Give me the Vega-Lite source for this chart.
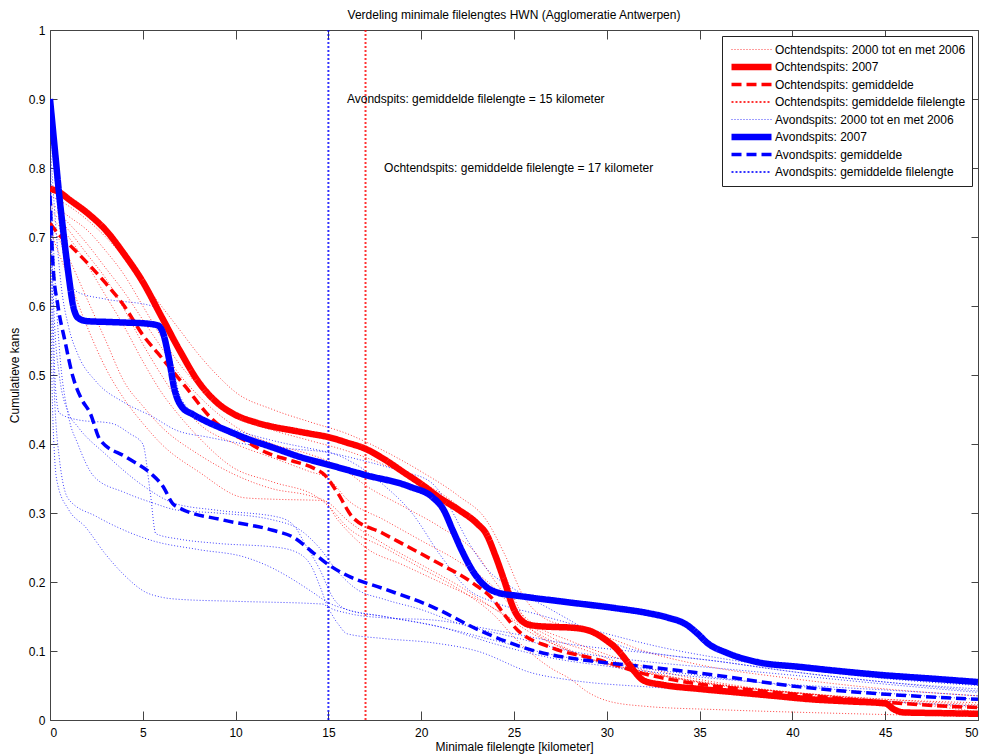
{
  "$schema": "https://vega.github.io/schema/vega-lite/v6.json",
  "width": 928,
  "height": 690,
  "autosize": "none",
  "padding": {"left": 50, "top": 30, "right": 6, "bottom": 35},
  "background": "white",
  "title": {"text": "Verdeling minimale filelengtes HWN (Agglomeratie Antwerpen)", "font": "Liberation Sans", "fontSize": 12, "fontWeight": "normal", "color": "black", "offset": 2, "anchor": "middle"},
  "config": {
    "view": {"stroke": null},
    "axis": {"labelFont": "Liberation Sans", "labelFontSize": 12, "labelColor": "black", "titleFont": "Liberation Sans", "titleFontSize": 12, "titleFontWeight": "normal", "titleColor": "black", "domainColor": "#444", "tickColor": "#444", "grid": false},
    "legend": {"orient": "none", "legendX": 672, "legendY": 6, "direction": "vertical", "strokeColor": "#222", "fillColor": "white", "padding": 6, "labelFont": "Liberation Sans", "labelFontSize": 12, "labelColor": "black", "symbolType": "stroke", "symbolSize": 1600, "labelOffset": 0, "clipHeight": 15, "rowPadding": 2.5, "labelLimit": 300}
  },
  "datasets": {
    "series": [
      {"s": "R0", "g": "Ochtendspits: 2000 tot en met 2006"},
      {"s": "R1", "g": "Ochtendspits: 2000 tot en met 2006"},
      {"s": "R2", "g": "Ochtendspits: 2000 tot en met 2006"},
      {"s": "R3", "g": "Ochtendspits: 2000 tot en met 2006"},
      {"s": "R4", "g": "Ochtendspits: 2000 tot en met 2006"},
      {"s": "R5", "g": "Ochtendspits: 2000 tot en met 2006"},
      {"s": "R6", "g": "Ochtendspits: 2000 tot en met 2006"},
      {"s": "R7", "g": "Ochtendspits: 2007"},
      {"s": "RG", "g": "Ochtendspits: gemiddelde"},
      {"s": "RV", "g": "Ochtendspits: gemiddelde filelengte"},
      {"s": "B0", "g": "Avondspits: 2000 tot en met 2006"},
      {"s": "B1", "g": "Avondspits: 2000 tot en met 2006"},
      {"s": "B2", "g": "Avondspits: 2000 tot en met 2006"},
      {"s": "B3", "g": "Avondspits: 2000 tot en met 2006"},
      {"s": "B4", "g": "Avondspits: 2000 tot en met 2006"},
      {"s": "B5", "g": "Avondspits: 2000 tot en met 2006"},
      {"s": "B6", "g": "Avondspits: 2000 tot en met 2006"},
      {"s": "B7", "g": "Avondspits: 2007"},
      {"s": "BG", "g": "Avondspits: gemiddelde"},
      {"s": "BV", "g": "Avondspits: gemiddelde filelengte"}
    ],
    "notes": [
      {"t": "Avondspits: gemiddelde filelengte = 15 kilometer", "x": 16, "y": 0.9},
      {"t": "Ochtendspits: gemiddelde filelengte = 17 kilometer", "x": 18, "y": 0.8}
    ],
    "lines": [
      {"s":"R0","x":0,"y":0.75},{"s":"R0","x":1,"y":0.73},{"s":"R0","x":2,"y":0.71},{"s":"R0","x":3,"y":0.68},{"s":"R0","x":4,"y":0.645},{"s":"R0","x":5,"y":0.6},{"s":"R0","x":6,"y":0.555},{"s":"R0","x":7,"y":0.515},{"s":"R0","x":8,"y":0.485},{"s":"R0","x":9,"y":0.46},{"s":"R0","x":10,"y":0.44},{"s":"R0","x":12,"y":0.42},{"s":"R0","x":14,"y":0.405},{"s":"R0","x":16,"y":0.39},{"s":"R0","x":18,"y":0.37},{"s":"R0","x":20,"y":0.345},{"s":"R0","x":22,"y":0.31},{"s":"R0","x":23.5,"y":0.27},{"s":"R0","x":24.5,"y":0.21},{"s":"R0","x":25.5,"y":0.15},{"s":"R0","x":27,"y":0.12},{"s":"R0","x":29,"y":0.1},{"s":"R0","x":31,"y":0.08},{"s":"R0","x":34,"y":0.06},{"s":"R0","x":38,"y":0.045},{"s":"R0","x":42,"y":0.035},{"s":"R0","x":46,"y":0.025},{"s":"R0","x":50,"y":0.018},
      {"s":"R1","x":0,"y":0.74},{"s":"R1","x":1,"y":0.71},{"s":"R1","x":2,"y":0.675},{"s":"R1","x":3,"y":0.64},{"s":"R1","x":4,"y":0.595},{"s":"R1","x":5,"y":0.545},{"s":"R1","x":6,"y":0.5},{"s":"R1","x":7,"y":0.46},{"s":"R1","x":8,"y":0.43},{"s":"R1","x":10,"y":0.4},{"s":"R1","x":12,"y":0.38},{"s":"R1","x":14,"y":0.36},{"s":"R1","x":15,"y":0.35},{"s":"R1","x":16,"y":0.32},{"s":"R1","x":18,"y":0.29},{"s":"R1","x":20,"y":0.26},{"s":"R1","x":22,"y":0.23},{"s":"R1","x":24,"y":0.19},{"s":"R1","x":25,"y":0.16},{"s":"R1","x":26,"y":0.13},{"s":"R1","x":28,"y":0.1},{"s":"R1","x":31,"y":0.075},{"s":"R1","x":35,"y":0.055},{"s":"R1","x":40,"y":0.04},{"s":"R1","x":45,"y":0.03},{"s":"R1","x":50,"y":0.022},
      {"s":"R2","x":0,"y":0.72},{"s":"R2","x":1,"y":0.67},{"s":"R2","x":2,"y":0.61},{"s":"R2","x":3,"y":0.55},{"s":"R2","x":4,"y":0.49},{"s":"R2","x":5,"y":0.455},{"s":"R2","x":6,"y":0.425},{"s":"R2","x":8,"y":0.385},{"s":"R2","x":10,"y":0.355},{"s":"R2","x":12,"y":0.335},{"s":"R2","x":14,"y":0.325},{"s":"R2","x":15,"y":0.315},{"s":"R2","x":16,"y":0.29},{"s":"R2","x":18,"y":0.255},{"s":"R2","x":20,"y":0.225},{"s":"R2","x":22,"y":0.195},{"s":"R2","x":24,"y":0.16},{"s":"R2","x":26,"y":0.125},{"s":"R2","x":28,"y":0.1},{"s":"R2","x":30,"y":0.08},{"s":"R2","x":34,"y":0.06},{"s":"R2","x":38,"y":0.045},{"s":"R2","x":44,"y":0.03},{"s":"R2","x":50,"y":0.02},
      {"s":"R3","x":0,"y":0.71},{"s":"R3","x":1,"y":0.64},{"s":"R3","x":2,"y":0.57},{"s":"R3","x":3,"y":0.51},{"s":"R3","x":4,"y":0.465},{"s":"R3","x":5,"y":0.43},{"s":"R3","x":6,"y":0.4},{"s":"R3","x":8,"y":0.36},{"s":"R3","x":10.5,"y":0.322},{"s":"R3","x":12,"y":0.32},{"s":"R3","x":14.7,"y":0.318},{"s":"R3","x":15.5,"y":0.29},{"s":"R3","x":17,"y":0.25},{"s":"R3","x":19,"y":0.225},{"s":"R3","x":21,"y":0.2},{"s":"R3","x":23,"y":0.175},{"s":"R3","x":25,"y":0.145},{"s":"R3","x":27,"y":0.115},{"s":"R3","x":29,"y":0.09},{"s":"R3","x":32,"y":0.07},{"s":"R3","x":36,"y":0.05},{"s":"R3","x":40,"y":0.04},{"s":"R3","x":45,"y":0.03},{"s":"R3","x":50,"y":0.025},
      {"s":"R4","x":0,"y":0.76},{"s":"R4","x":1,"y":0.745},{"s":"R4","x":2,"y":0.725},{"s":"R4","x":3,"y":0.7},{"s":"R4","x":4,"y":0.67},{"s":"R4","x":5,"y":0.635},{"s":"R4","x":6,"y":0.6},{"s":"R4","x":7,"y":0.565},{"s":"R4","x":8,"y":0.53},{"s":"R4","x":9,"y":0.5},{"s":"R4","x":10,"y":0.475},{"s":"R4","x":12,"y":0.45},{"s":"R4","x":14,"y":0.432},{"s":"R4","x":16,"y":0.415},{"s":"R4","x":18,"y":0.39},{"s":"R4","x":20,"y":0.36},{"s":"R4","x":22,"y":0.325},{"s":"R4","x":23.5,"y":0.29},{"s":"R4","x":24.5,"y":0.24},{"s":"R4","x":25.5,"y":0.18},{"s":"R4","x":26.5,"y":0.15},{"s":"R4","x":28,"y":0.135},{"s":"R4","x":30,"y":0.12},{"s":"R4","x":32,"y":0.1},{"s":"R4","x":35,"y":0.08},{"s":"R4","x":40,"y":0.06},{"s":"R4","x":45,"y":0.045},{"s":"R4","x":50,"y":0.035},
      {"s":"R5","x":0,"y":0.73},{"s":"R5","x":1,"y":0.7},{"s":"R5","x":2,"y":0.66},{"s":"R5","x":3,"y":0.615},{"s":"R5","x":4,"y":0.57},{"s":"R5","x":5,"y":0.52},{"s":"R5","x":6,"y":0.475},{"s":"R5","x":7,"y":0.44},{"s":"R5","x":8,"y":0.41},{"s":"R5","x":9.8,"y":0.367},{"s":"R5","x":12,"y":0.345},{"s":"R5","x":14.4,"y":0.323},{"s":"R5","x":15,"y":0.31},{"s":"R5","x":16,"y":0.28},{"s":"R5","x":18,"y":0.25},{"s":"R5","x":20,"y":0.22},{"s":"R5","x":22,"y":0.19},{"s":"R5","x":24,"y":0.15},{"s":"R5","x":25,"y":0.12},{"s":"R5","x":26,"y":0.095},{"s":"R5","x":27,"y":0.075},{"s":"R5","x":28,"y":0.06},{"s":"R5","x":29,"y":0.04},{"s":"R5","x":30,"y":0.028},{"s":"R5","x":32,"y":0.02},{"s":"R5","x":36,"y":0.015},{"s":"R5","x":42,"y":0.01},{"s":"R5","x":50,"y":0.005},
      {"s":"R6","x":0,"y":0.745},{"s":"R6","x":1,"y":0.72},{"s":"R6","x":2,"y":0.69},{"s":"R6","x":3,"y":0.655},{"s":"R6","x":4,"y":0.62},{"s":"R6","x":5,"y":0.58},{"s":"R6","x":6,"y":0.54},{"s":"R6","x":7,"y":0.5},{"s":"R6","x":8,"y":0.47},{"s":"R6","x":9,"y":0.445},{"s":"R6","x":10,"y":0.425},{"s":"R6","x":12,"y":0.4},{"s":"R6","x":14,"y":0.385},{"s":"R6","x":15,"y":0.375},{"s":"R6","x":16,"y":0.36},{"s":"R6","x":17,"y":0.34},{"s":"R6","x":19,"y":0.31},{"s":"R6","x":21,"y":0.28},{"s":"R6","x":23,"y":0.24},{"s":"R6","x":24,"y":0.2},{"s":"R6","x":25,"y":0.165},{"s":"R6","x":26,"y":0.14},{"s":"R6","x":28,"y":0.115},{"s":"R6","x":30,"y":0.095},{"s":"R6","x":33,"y":0.07},{"s":"R6","x":37,"y":0.05},{"s":"R6","x":42,"y":0.035},{"s":"R6","x":46,"y":0.025},{"s":"R6","x":50,"y":0.012},
      {"s":"RV","x":17,"y":0},{"s":"RV","x":17,"y":1},
      {"s":"B0","x":0,"y":0.86},{"s":"B0","x":0.25,"y":0.79},{"s":"B0","x":0.5,"y":0.72},{"s":"B0","x":0.75,"y":0.67},{"s":"B0","x":1,"y":0.64},{"s":"B0","x":1.5,"y":0.62},{"s":"B0","x":3,"y":0.61},{"s":"B0","x":5.5,"y":0.6},{"s":"B0","x":6,"y":0.58},{"s":"B0","x":6.5,"y":0.53},{"s":"B0","x":7,"y":0.47},{"s":"B0","x":8,"y":0.44},{"s":"B0","x":10,"y":0.42},{"s":"B0","x":12,"y":0.405},{"s":"B0","x":15,"y":0.388},{"s":"B0","x":17,"y":0.375},{"s":"B0","x":19,"y":0.36},{"s":"B0","x":20.5,"y":0.345},{"s":"B0","x":21.5,"y":0.31},{"s":"B0","x":22.5,"y":0.26},{"s":"B0","x":23.5,"y":0.22},{"s":"B0","x":25,"y":0.19},{"s":"B0","x":27,"y":0.16},{"s":"B0","x":29,"y":0.13},{"s":"B0","x":31,"y":0.105},{"s":"B0","x":33,"y":0.095},{"s":"B0","x":36,"y":0.085},{"s":"B0","x":40,"y":0.07},{"s":"B0","x":45,"y":0.055},{"s":"B0","x":50,"y":0.045},
      {"s":"B1","x":0,"y":0.8},{"s":"B1","x":0.15,"y":0.6},{"s":"B1","x":0.3,"y":0.48},{"s":"B1","x":0.5,"y":0.445},{"s":"B1","x":1.5,"y":0.435},{"s":"B1","x":3.3,"y":0.43},{"s":"B1","x":4.3,"y":0.415},{"s":"B1","x":5,"y":0.4},{"s":"B1","x":5.4,"y":0.33},{"s":"B1","x":5.7,"y":0.27},{"s":"B1","x":7,"y":0.262},{"s":"B1","x":9,"y":0.256},{"s":"B1","x":12.3,"y":0.25},{"s":"B1","x":13.5,"y":0.24},{"s":"B1","x":14.1,"y":0.222},{"s":"B1","x":14.6,"y":0.19},{"s":"B1","x":15,"y":0.164},{"s":"B1","x":16,"y":0.155},{"s":"B1","x":18,"y":0.148},{"s":"B1","x":20.6,"y":0.145},{"s":"B1","x":24,"y":0.13},{"s":"B1","x":28,"y":0.11},{"s":"B1","x":32.2,"y":0.097},{"s":"B1","x":36,"y":0.085},{"s":"B1","x":40,"y":0.07},{"s":"B1","x":45,"y":0.055},{"s":"B1","x":50,"y":0.042},
      {"s":"B2","x":0,"y":0.78},{"s":"B2","x":0.2,"y":0.6},{"s":"B2","x":0.5,"y":0.5},{"s":"B2","x":1,"y":0.445},{"s":"B2","x":1.5,"y":0.425},{"s":"B2","x":3,"y":0.385},{"s":"B2","x":5.1,"y":0.338},{"s":"B2","x":6.7,"y":0.314},{"s":"B2","x":9,"y":0.304},{"s":"B2","x":12.3,"y":0.294},{"s":"B2","x":13.2,"y":0.28},{"s":"B2","x":13.7,"y":0.257},{"s":"B2","x":14.5,"y":0.22},{"s":"B2","x":15.3,"y":0.175},{"s":"B2","x":16,"y":0.16},{"s":"B2","x":18,"y":0.15},{"s":"B2","x":21,"y":0.135},{"s":"B2","x":24,"y":0.115},{"s":"B2","x":27,"y":0.095},{"s":"B2","x":30,"y":0.082},{"s":"B2","x":34,"y":0.068},{"s":"B2","x":38,"y":0.055},{"s":"B2","x":42,"y":0.045},{"s":"B2","x":46,"y":0.037},{"s":"B2","x":50,"y":0.03},
      {"s":"B3","x":0,"y":0.7},{"s":"B3","x":0.1,"y":0.5},{"s":"B3","x":0.25,"y":0.38},{"s":"B3","x":0.4,"y":0.343},{"s":"B3","x":1,"y":0.305},{"s":"B3","x":1.9,"y":0.28},{"s":"B3","x":3,"y":0.24},{"s":"B3","x":4,"y":0.21},{"s":"B3","x":5.1,"y":0.186},{"s":"B3","x":6,"y":0.178},{"s":"B3","x":6.9,"y":0.175},{"s":"B3","x":10,"y":0.172},{"s":"B3","x":14.7,"y":0.168},{"s":"B3","x":15.5,"y":0.14},{"s":"B3","x":16,"y":0.125},{"s":"B3","x":18,"y":0.118},{"s":"B3","x":20.6,"y":0.112},{"s":"B3","x":23,"y":0.1},{"s":"B3","x":26,"y":0.068},{"s":"B3","x":28,"y":0.058},{"s":"B3","x":32.2,"y":0.048},{"s":"B3","x":36,"y":0.042},{"s":"B3","x":40,"y":0.035},{"s":"B3","x":45,"y":0.027},{"s":"B3","x":50,"y":0.02},
      {"s":"B4","x":0,"y":0.74},{"s":"B4","x":0.2,"y":0.5},{"s":"B4","x":0.5,"y":0.38},{"s":"B4","x":1,"y":0.32},{"s":"B4","x":2.5,"y":0.295},{"s":"B4","x":4,"y":0.275},{"s":"B4","x":5.5,"y":0.26},{"s":"B4","x":8,"y":0.247},{"s":"B4","x":10.5,"y":0.236},{"s":"B4","x":12,"y":0.22},{"s":"B4","x":13,"y":0.205},{"s":"B4","x":14.1,"y":0.186},{"s":"B4","x":15,"y":0.17},{"s":"B4","x":16,"y":0.16},{"s":"B4","x":18,"y":0.15},{"s":"B4","x":21,"y":0.135},{"s":"B4","x":24,"y":0.11},{"s":"B4","x":27,"y":0.09},{"s":"B4","x":30,"y":0.078},{"s":"B4","x":34,"y":0.065},{"s":"B4","x":38,"y":0.055},{"s":"B4","x":42,"y":0.048},{"s":"B4","x":46,"y":0.042},{"s":"B4","x":50,"y":0.035},
      {"s":"B5","x":0,"y":0.82},{"s":"B5","x":0.25,"y":0.65},{"s":"B5","x":0.5,"y":0.54},{"s":"B5","x":1,"y":0.44},{"s":"B5","x":1.5,"y":0.4},{"s":"B5","x":2.4,"y":0.352},{"s":"B5","x":4,"y":0.33},{"s":"B5","x":5.5,"y":0.315},{"s":"B5","x":6.9,"y":0.304},{"s":"B5","x":9,"y":0.3},{"s":"B5","x":12,"y":0.29},{"s":"B5","x":13.5,"y":0.275},{"s":"B5","x":14.5,"y":0.25},{"s":"B5","x":15.5,"y":0.215},{"s":"B5","x":16.5,"y":0.19},{"s":"B5","x":18,"y":0.175},{"s":"B5","x":20,"y":0.16},{"s":"B5","x":22,"y":0.14},{"s":"B5","x":25,"y":0.12},{"s":"B5","x":28,"y":0.1},{"s":"B5","x":32,"y":0.085},{"s":"B5","x":36,"y":0.075},{"s":"B5","x":40,"y":0.065},{"s":"B5","x":45,"y":0.052},{"s":"B5","x":50,"y":0.04},
      {"s":"B6","x":0,"y":0.84},{"s":"B6","x":0.3,"y":0.72},{"s":"B6","x":0.6,"y":0.63},{"s":"B6","x":1,"y":0.57},{"s":"B6","x":1.5,"y":0.53},{"s":"B6","x":2.5,"y":0.49},{"s":"B6","x":4,"y":0.46},{"s":"B6","x":5.5,"y":0.44},{"s":"B6","x":6.8,"y":0.42},{"s":"B6","x":8.5,"y":0.41},{"s":"B6","x":10.5,"y":0.4},{"s":"B6","x":13,"y":0.393},{"s":"B6","x":15.1,"y":0.387},{"s":"B6","x":16.5,"y":0.37},{"s":"B6","x":18,"y":0.34},{"s":"B6","x":19.5,"y":0.3},{"s":"B6","x":21,"y":0.24},{"s":"B6","x":22.5,"y":0.19},{"s":"B6","x":24,"y":0.17},{"s":"B6","x":26,"y":0.155},{"s":"B6","x":28,"y":0.14},{"s":"B6","x":30,"y":0.125},{"s":"B6","x":33,"y":0.105},{"s":"B6","x":36,"y":0.09},{"s":"B6","x":40,"y":0.075},{"s":"B6","x":45,"y":0.06},{"s":"B6","x":50,"y":0.05},
      {"s":"BV","x":15,"y":0},{"s":"BV","x":15,"y":1},
      {"s":"RG","x":0,"y":0.72},{"s":"RG","x":0.5,"y":0.703},{"s":"RG","x":1,"y":0.69},{"s":"RG","x":2.2,"y":0.657},{"s":"RG","x":3,"y":0.633},{"s":"RG","x":4,"y":0.6},{"s":"RG","x":5,"y":0.558},{"s":"RG","x":5.8,"y":0.532},{"s":"RG","x":7.3,"y":0.483},{"s":"RG","x":8.7,"y":0.437},{"s":"RG","x":9.3,"y":0.423},{"s":"RG","x":10.5,"y":0.405},{"s":"RG","x":11.7,"y":0.387},{"s":"RG","x":13,"y":0.376},{"s":"RG","x":14.2,"y":0.365},{"s":"RG","x":14.8,"y":0.355},{"s":"RG","x":15.5,"y":0.329},{"s":"RG","x":16.3,"y":0.294},{"s":"RG","x":17.9,"y":0.271},{"s":"RG","x":20.6,"y":0.232},{"s":"RG","x":22.8,"y":0.198},{"s":"RG","x":23.9,"y":0.174},{"s":"RG","x":24.5,"y":0.152},{"s":"RG","x":25.2,"y":0.13},{"s":"RG","x":26.9,"y":0.106},{"s":"RG","x":29.6,"y":0.087},{"s":"RG","x":32.3,"y":0.065},{"s":"RG","x":35,"y":0.052},{"s":"RG","x":38,"y":0.043},{"s":"RG","x":41,"y":0.035},{"s":"RG","x":44,"y":0.028},{"s":"RG","x":47,"y":0.022},{"s":"RG","x":50,"y":0.018},
      {"s":"BG","x":0,"y":0.76},{"s":"BG","x":0.16,"y":0.66},{"s":"BG","x":0.43,"y":0.6},{"s":"BG","x":0.8,"y":0.55},{"s":"BG","x":1.24,"y":0.497},{"s":"BG","x":1.7,"y":0.465},{"s":"BG","x":2.16,"y":0.445},{"s":"BG","x":2.7,"y":0.406},{"s":"BG","x":4.1,"y":0.381},{"s":"BG","x":5.4,"y":0.358},{"s":"BG","x":6.1,"y":0.338},{"s":"BG","x":6.6,"y":0.314},{"s":"BG","x":7,"y":0.307},{"s":"BG","x":9.3,"y":0.29},{"s":"BG","x":12,"y":0.275},{"s":"BG","x":13.1,"y":0.265},{"s":"BG","x":14.2,"y":0.242},{"s":"BG","x":14.9,"y":0.227},{"s":"BG","x":16.2,"y":0.207},{"s":"BG","x":17.9,"y":0.191},{"s":"BG","x":20.6,"y":0.164},{"s":"BG","x":23.3,"y":0.128},{"s":"BG","x":26,"y":0.101},{"s":"BG","x":29.6,"y":0.084},{"s":"BG","x":32.2,"y":0.077},{"s":"BG","x":35,"y":0.068},{"s":"BG","x":40.4,"y":0.048},{"s":"BG","x":45.8,"y":0.036},{"s":"BG","x":50,"y":0.03},
      {"s":"R7","x":0,"y":0.77},{"s":"R7","x":0.5,"y":0.765},{"s":"R7","x":1,"y":0.755},{"s":"R7","x":2,"y":0.735},{"s":"R7","x":3,"y":0.71},{"s":"R7","x":4,"y":0.675},{"s":"R7","x":5,"y":0.635},{"s":"R7","x":6,"y":0.585},{"s":"R7","x":7,"y":0.535},{"s":"R7","x":8,"y":0.49},{"s":"R7","x":9,"y":0.46},{"s":"R7","x":10,"y":0.442},{"s":"R7","x":11,"y":0.432},{"s":"R7","x":12,"y":0.425},{"s":"R7","x":13,"y":0.42},{"s":"R7","x":14,"y":0.415},{"s":"R7","x":15,"y":0.41},{"s":"R7","x":16,"y":0.402},{"s":"R7","x":17,"y":0.393},{"s":"R7","x":18,"y":0.378},{"s":"R7","x":19,"y":0.36},{"s":"R7","x":20,"y":0.342},{"s":"R7","x":21,"y":0.322},{"s":"R7","x":22,"y":0.305},{"s":"R7","x":23,"y":0.285},{"s":"R7","x":23.5,"y":0.27},{"s":"R7","x":24,"y":0.238},{"s":"R7","x":24.5,"y":0.2},{"s":"R7","x":25,"y":0.16},{"s":"R7","x":25.5,"y":0.142},{"s":"R7","x":26,"y":0.137},{"s":"R7","x":27,"y":0.135},{"s":"R7","x":28,"y":0.134},{"s":"R7","x":29,"y":0.13},{"s":"R7","x":30,"y":0.115},{"s":"R7","x":30.5,"y":0.104},{"s":"R7","x":31,"y":0.088},{"s":"R7","x":31.5,"y":0.07},{"s":"R7","x":32,"y":0.057},{"s":"R7","x":33,"y":0.051},{"s":"R7","x":35,"y":0.045},{"s":"R7","x":37,"y":0.04},{"s":"R7","x":39,"y":0.035},{"s":"R7","x":41,"y":0.03},{"s":"R7","x":43,"y":0.027},{"s":"R7","x":45,"y":0.024},{"s":"R7","x":45.5,"y":0.015},{"s":"R7","x":46,"y":0.011},{"s":"R7","x":48,"y":0.01},{"s":"R7","x":50,"y":0.009},
      {"s":"B7","x":0,"y":0.9},{"s":"B7","x":0.25,"y":0.83},{"s":"B7","x":0.5,"y":0.76},{"s":"B7","x":0.75,"y":0.7},{"s":"B7","x":1,"y":0.645},{"s":"B7","x":1.25,"y":0.6},{"s":"B7","x":1.5,"y":0.583},{"s":"B7","x":2,"y":0.578},{"s":"B7","x":3,"y":0.577},{"s":"B7","x":4,"y":0.576},{"s":"B7","x":5,"y":0.575},{"s":"B7","x":5.8,"y":0.572},{"s":"B7","x":6.1,"y":0.56},{"s":"B7","x":6.4,"y":0.525},{"s":"B7","x":6.7,"y":0.48},{"s":"B7","x":7.1,"y":0.454},{"s":"B7","x":7.7,"y":0.443},{"s":"B7","x":8.4,"y":0.433},{"s":"B7","x":9.5,"y":0.42},{"s":"B7","x":10.5,"y":0.409},{"s":"B7","x":12,"y":0.395},{"s":"B7","x":13.5,"y":0.381},{"s":"B7","x":15,"y":0.37},{"s":"B7","x":17,"y":0.355},{"s":"B7","x":19.4,"y":0.338},{"s":"B7","x":20.6,"y":0.323},{"s":"B7","x":21.2,"y":0.305},{"s":"B7","x":21.7,"y":0.275},{"s":"B7","x":22.2,"y":0.245},{"s":"B7","x":22.8,"y":0.215},{"s":"B7","x":23.5,"y":0.193},{"s":"B7","x":24.2,"y":0.184},{"s":"B7","x":25.2,"y":0.18},{"s":"B7","x":27.8,"y":0.171},{"s":"B7","x":30.5,"y":0.162},{"s":"B7","x":32.2,"y":0.155},{"s":"B7","x":33.2,"y":0.149},{"s":"B7","x":34.3,"y":0.138},{"s":"B7","x":34.9,"y":0.125},{"s":"B7","x":35.4,"y":0.112},{"s":"B7","x":36.5,"y":0.097},{"s":"B7","x":38.1,"y":0.084},{"s":"B7","x":40.4,"y":0.077},{"s":"B7","x":42.5,"y":0.071},{"s":"B7","x":44.9,"y":0.065},{"s":"B7","x":47.5,"y":0.06},{"s":"B7","x":50,"y":0.055}
    ]
  },
  "layer": [
    {
      "data": {"name": "lines"},
      "transform": [{"lookup": "s", "from": {"data": {"name": "series"}, "key": "s", "fields": ["g"]}}],
      "mark": {"type": "line", "interpolate": "monotone", "clip": true},
      "encoding": {
        "x": {"field": "x", "type": "quantitative", "scale": {"domain": [0, 50], "nice": false}, "axis": {"orient": "bottom", "title": "Minimale filelengte [kilometer]", "values": [0,5,10,15,20,25,30,35,40,45,50], "tickSize": -9, "labelPadding": 16, "titlePadding": 3}},
        "y": {"field": "y", "type": "quantitative", "scale": {"domain": [0, 1], "nice": false}, "axis": {"orient": "left", "title": "Cumulatieve kans", "values": [0,0.1,0.2,0.3,0.4,0.5,0.6,0.7,0.8,0.9,1], "format": "~g", "tickSize": -7, "labelPadding": 12, "titlePadding": 7}},
        "color": {"field": "g", "type": "nominal", "legend": {"title": null}, "scale": {"domain": ["Ochtendspits: 2000 tot en met 2006","Ochtendspits: 2007","Ochtendspits: gemiddelde","Ochtendspits: gemiddelde filelengte","Avondspits: 2000 tot en met 2006","Avondspits: 2007","Avondspits: gemiddelde","Avondspits: gemiddelde filelengte"], "range": ["#ff0000","#ff0000","#ff0000","#ff0000","#0000ff","#0000ff","#0000ff","#0000ff"]}},
        "strokeDash": {"field": "g", "type": "nominal", "legend": {"title": null}, "scale": {"domain": ["Ochtendspits: 2000 tot en met 2006","Ochtendspits: 2007","Ochtendspits: gemiddelde","Ochtendspits: gemiddelde filelengte","Avondspits: 2000 tot en met 2006","Avondspits: 2007","Avondspits: gemiddelde","Avondspits: gemiddelde filelengte"], "range": [[1,2],[1,0],[10,5],[2,2],[1,2],[1,0],[10,5],[2,2]]}},
        "strokeWidth": {"field": "g", "type": "nominal", "legend": {"title": null}, "scale": {"type": "ordinal", "domain": ["Ochtendspits: 2000 tot en met 2006","Ochtendspits: 2007","Ochtendspits: gemiddelde","Ochtendspits: gemiddelde filelengte","Avondspits: 2000 tot en met 2006","Avondspits: 2007","Avondspits: gemiddelde","Avondspits: gemiddelde filelengte"], "range": [1,6.5,3.5,2,1,6.5,3.5,2]}},
        "opacity": {"field": "g", "type": "nominal", "legend": {"title": null}, "scale": {"type": "ordinal", "domain": ["Ochtendspits: 2000 tot en met 2006","Ochtendspits: 2007","Ochtendspits: gemiddelde","Ochtendspits: gemiddelde filelengte","Avondspits: 2000 tot en met 2006","Avondspits: 2007","Avondspits: gemiddelde","Avondspits: gemiddelde filelengte"], "range": [0.75,1,1,0.8,0.75,1,1,0.8]}},
        "detail": {"field": "s"}
      }
    },
    {
      "data": {"name": "notes"},
      "mark": {"type": "text", "align": "left", "baseline": "middle", "font": "Liberation Sans", "fontSize": 12, "color": "black"},
      "encoding": {
        "x": {"field": "x", "type": "quantitative", "axis": {"orient": "top", "title": null, "labels": false, "values": [0,5,10,15,20,25,30,35,40,45,50], "tickSize": -9}},
        "y": {"field": "y", "type": "quantitative", "axis": {"orient": "right", "title": null, "labels": false, "values": [0,0.1,0.2,0.3,0.4,0.5,0.6,0.7,0.8,0.9,1], "tickSize": -7}},
        "text": {"field": "t"}
      }
    }
  ],
  "resolve": {"axis": {"x": "independent", "y": "independent"}}
}
